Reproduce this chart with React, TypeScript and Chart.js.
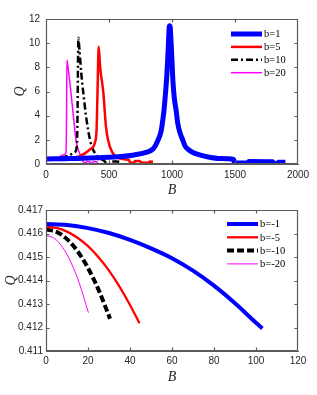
import React, { useEffect, useRef } from "react";
import { Chart, registerables } from "chart.js";

Chart.register(...registerables);

// ---------- Top chart data (b > 0) ----------
const topXTicks = [0, 500, 1000, 1500, 2000];
const topYTicks = [0, 2, 4, 6, 8, 10, 12];

const b1B = [0, 200, 400, 600, 700, 800, 850, 870, 890, 905, 915, 925, 937, 948, 958, 965, 970, 975, 979, 983, 986, 990, 995, 1000, 1005, 1012, 1020, 1032, 1045, 1063, 1085, 1103, 1130, 1167, 1220, 1278, 1381, 1490, 1495, 1603, 1608, 1800, 1808, 1838, 1843, 1900];
const b1Q = [0.42, 0.45, 0.52, 0.62, 0.75, 0.98, 1.25, 1.55, 2.0, 2.4, 2.8, 3.5, 4.5, 5.8, 7.2, 8.5, 9.6, 10.8, 11.4, 11.45, 11.3, 10.6, 9.6, 8.5, 7.3, 6.2, 5.3, 4.5, 3.4, 2.6, 2.0, 1.5, 1.2, 0.95, 0.75, 0.6, 0.45, 0.37, 0.08, 0.08, 0.2, 0.18, 0.03, 0.03, 0.15, 0.15];

const b5B = [0, 100, 200, 270, 349, 389, 402, 410, 418, 430, 455, 475, 492, 524, 571, 651, 660, 667, 700, 705, 740, 760, 810, 825, 849];
const b5Q = [0.42, 0.43, 0.5, 0.65, 1.2, 1.8, 3.0, 6.5, 9.7, 8.0, 5.9, 3.2, 2.0, 1.0, 0.5, 0.35, 0.3, 0.1, 0.1, 0.25, 0.25, 0.12, 0.1, 0.2, 0.18];

const b10B = [0, 111, 180, 230, 245, 250, 254, 257, 265, 280, 296, 320, 349, 373, 413, 468, 480, 510, 520, 560, 600];
const b10Q = [0.38, 0.5, 0.7, 1.0, 1.5, 4.0, 8.5, 10.45, 9.5, 7.5, 5.9, 3.8, 2.0, 1.2, 0.6, 0.2, 0.05, 0.0, 0.2, 0.2, 0.15];

const b20B = [0, 80, 135, 159, 163, 166, 175, 198, 220, 238, 255, 280, 294, 310, 330, 350, 360, 380, 413];
const b20Q = [0.35, 0.4, 0.75, 0.9, 4.0, 8.6, 8.0, 5.9, 3.7, 2.0, 1.2, 0.6, 0.2, 0.1, 0.2, 0.15, 0.05, 0.2, 0.15];

// ---------- Bottom chart data (b < 0) ----------
const botXTicks = [0, 20, 40, 60, 80, 100, 120];
const botYTicks = [0.411, 0.412, 0.413, 0.414, 0.415, 0.416, 0.417];

const bm1B = [0, 10, 20, 30, 40, 50, 60, 70, 80, 90, 100, 103];
const bm1Q = [0.4164, 0.41636, 0.41623, 0.41602, 0.41573, 0.41537, 0.41495, 0.41442, 0.41378, 0.41303, 0.4122, 0.41196];

const bm5B = [0, 5, 10, 15, 20, 25, 30, 35, 40, 44.5];
const bm5Q = [0.41629, 0.41624, 0.41608, 0.41582, 0.41546, 0.41499, 0.41442, 0.41374, 0.41296, 0.41218];

const bm10B = [0, 5, 10, 15, 20, 25, 30.5];
const bm10Q = [0.41617, 0.41607, 0.41576, 0.41525, 0.41453, 0.41361, 0.41237];

const bm20B = [0, 4, 8, 12, 16, 20.2];
const bm20Q = [0.41592, 0.41579, 0.4154, 0.41475, 0.41385, 0.41263];

const topLabels = ["b=1", "b=5", "b=10", "b=20"];
const botLabels = ["b=-1", "b=-5", "b=-10", "b=-20"];

const pts = (xs: number[], ys: number[]) => xs.map((x, i) => ({ x, y: ys[i] }));

const AXIS_COLOR = "#262626";
const BOX_COLOR = "#5a5a5a";

type Cfg = {
  width: number;
  height: number;
  top: number;
  bottom: number;
  left: number;
  right: number;
  xMin: number;
  xMax: number;
  yMin: number;
  yMax: number;
  xTicks: number[];
  yTicks: number[];
  yDecimals: number;
  xPad: number;
  yPad: number;
  qX: number;
  legendX: number;
  legendY: number;
  legendStep: number;
  legendLen: number;
  datasets: any[];
};

function makeFramePlugin(cfg: Cfg) {
  return {
    id: "frame",
    afterDraw(chart: any) {
      const ctx: CanvasRenderingContext2D = chart.ctx;
      const a = chart.chartArea;
      const sx = chart.scales.x;
      const sy = chart.scales.y;
      const L = Math.round(sx.getPixelForValue(cfg.xMin));
      const R = Math.round(sx.getPixelForValue(cfg.xMax)) - 1;
      const T = Math.round(sy.getPixelForValue(cfg.yMax));
      const B = Math.round(sy.getPixelForValue(cfg.yMin)) - 1;
      ctx.save();
      ctx.setLineDash([]);
      ctx.globalAlpha = 1;
      ctx.globalCompositeOperation = "source-over";
      ctx.strokeStyle = BOX_COLOR;
      ctx.lineWidth = 1.2;
      const tl = 3;
      ctx.beginPath();
      ctx.rect(L + 0.5, T + 0.5, R - L, B - T);
      for (const v of cfg.xTicks) {
        const x = Math.min(Math.max(Math.round(sx.getPixelForValue(v)), L), R) + 0.5;
        ctx.moveTo(x, B + 0.5);
        ctx.lineTo(x, B + 0.5 - tl);
        ctx.moveTo(x, T + 0.5);
        ctx.lineTo(x, T + 0.5 + tl);
      }
      for (const v of cfg.yTicks) {
        const y = Math.min(Math.max(Math.round(sy.getPixelForValue(v)), T), B) + 0.5;
        ctx.moveTo(L + 0.5, y);
        ctx.lineTo(L + 0.5 + tl, y);
        ctx.moveTo(R + 0.5, y);
        ctx.lineTo(R + 0.5 - tl, y);
      }
      ctx.stroke();

      // axis titles
      ctx.fillStyle = AXIS_COLOR;
      ctx.font = "italic 14px 'Liberation Serif', serif";
      ctx.textAlign = "center";
      ctx.textBaseline = "middle";
      ctx.fillText("B", (a.left + a.right) / 2, a.bottom + 26.5);
      ctx.save();
      ctx.translate(cfg.qX, (a.top + a.bottom) / 2);
      ctx.rotate(-Math.PI / 2);
      ctx.fillText("Q", 0, 0);
      ctx.restore();

      // legend
      chart.data.datasets.forEach((ds: any, i: number) => {
        const y = cfg.legendY + i * cfg.legendStep;
        ctx.strokeStyle = ds.borderColor;
        ctx.lineWidth = ds.borderWidth;
        ctx.lineCap = "butt";
        ctx.setLineDash(ds.borderDash || []);
        ctx.beginPath();
        ctx.moveTo(cfg.legendX, y);
        ctx.lineTo(cfg.legendX + cfg.legendLen, y);
        ctx.stroke();
        ctx.setLineDash([]);
        ctx.fillStyle = "#000";
        ctx.font = "10.5px 'Liberation Serif', serif";
        ctx.textAlign = "left";
        ctx.textBaseline = "middle";
        ctx.fillText(ds.label, cfg.legendX + cfg.legendLen + 2, y + 0.5);
      });
      ctx.restore();
    },
  };
}

function LineChart({ cfg }: { cfg: Cfg }) {
  const ref = useRef<HTMLCanvasElement | null>(null);
  useEffect(() => {
    if (!ref.current) return;
    const chart = new Chart(ref.current, {
      type: "line",
      data: { datasets: cfg.datasets },
      options: {
        responsive: false,
        animation: false,
        devicePixelRatio: 1,
        layout: { padding: { top: cfg.top, right: cfg.width - cfg.right, left: 0, bottom: 0 } },
        plugins: { legend: { display: false }, tooltip: { enabled: false } },
        elements: {
          point: { radius: 0 },
          line: { tension: 0, borderJoinStyle: "round", cubicInterpolationMode: "monotone" },
        },
        scales: {
          x: {
            type: "linear",
            min: cfg.xMin,
            max: cfg.xMax,
            grid: { display: false, drawTicks: false },
            border: { display: true, color: BOX_COLOR, width: 1 },
            afterBuildTicks: (s: any) => {
              s.ticks = cfg.xTicks.map((v) => ({ value: v }));
            },
            afterFit: (s: any) => {
              s.height = cfg.height - cfg.bottom;
            },
            ticks: {
              autoSkip: false,
              maxRotation: 0,
              padding: cfg.xPad,
              color: AXIS_COLOR,
              font: { family: "'Liberation Sans', Arial, sans-serif", size: 10 },
              callback: (v: any) => String(v),
            },
          },
          y: {
            type: "linear",
            min: cfg.yMin,
            max: cfg.yMax,
            grid: { display: false, drawTicks: false },
            border: { display: true, color: BOX_COLOR, width: 1 },
            afterBuildTicks: (s: any) => {
              s.ticks = cfg.yTicks.map((v) => ({ value: v }));
            },
            afterFit: (s: any) => {
              s.width = cfg.left;
            },
            ticks: {
              autoSkip: false,
              padding: cfg.yPad,
              color: AXIS_COLOR,
              font: { family: "'Liberation Sans', Arial, sans-serif", size: 10 },
              callback: (v: any) => Number(v).toFixed(cfg.yDecimals),
            },
          },
        },
      } as any,
      plugins: [makeFramePlugin(cfg)],
    });
    return () => chart.destroy();
  }, [cfg]);
  return (
    <canvas
      ref={ref}
      width={cfg.width}
      height={cfg.height}
      style={{ display: "block", width: cfg.width, height: cfg.height }}
    />
  );
}

const topCfg: Cfg = {
  width: 317,
  height: 197,
  top: 19,
  bottom: 164,
  left: 46,
  right: 298,
  xMin: 0,
  xMax: 2000,
  yMin: 0,
  yMax: 12,
  xTicks: topXTicks,
  yTicks: topYTicks,
  yDecimals: 0,
  xPad: 5,
  yPad: 6,
  qX: 20,
  legendX: 231,
  legendY: 34,
  legendStep: 12.9,
  legendLen: 31,
  datasets: [
    { label: topLabels[0], data: pts(b1B, b1Q), borderColor: "#0000ff", borderWidth: 5, fill: false },
    { label: topLabels[1], data: pts(b5B, b5Q), borderColor: "#ff0000", borderWidth: 2.5, fill: false },
    { label: topLabels[2], data: pts(b10B, b10Q), borderColor: "#000000", borderWidth: 2.5, borderDash: [7, 3, 2, 3], fill: false },
    { label: topLabels[3], data: pts(b20B, b20Q), borderColor: "#ff00ff", borderWidth: 1.5, fill: false },
  ],
};

const botCfg: Cfg = {
  width: 317,
  height: 198,
  top: 13,
  bottom: 154,
  left: 46,
  right: 298,
  xMin: 0,
  xMax: 120,
  yMin: 0.411,
  yMax: 0.417,
  xTicks: botXTicks,
  yTicks: botYTicks,
  yDecimals: 3,
  xPad: 4,
  yPad: 3,
  qX: 11,
  legendX: 227,
  legendY: 27,
  legendStep: 13.3,
  legendLen: 31,
  datasets: [
    { label: botLabels[0], data: pts(bm1B, bm1Q), borderColor: "#0000ff", borderWidth: 4, fill: false },
    { label: botLabels[1], data: pts(bm5B, bm5Q), borderColor: "#ff0000", borderWidth: 2.3, fill: false },
    { label: botLabels[2], data: pts(bm10B, bm10Q), borderColor: "#000000", borderWidth: 4, borderDash: [7, 3], fill: false },
    { label: botLabels[3], data: pts(bm20B, bm20Q), borderColor: "#ff00ff", borderWidth: 1, fill: false },
  ],
};

export default function App() {
  return (
    <div style={{ position: "fixed", left: 0, top: 0, width: 317, height: 395, background: "#fff" }}>
      <LineChart cfg={topCfg} />
      <LineChart cfg={botCfg} />
    </div>
  );
}
